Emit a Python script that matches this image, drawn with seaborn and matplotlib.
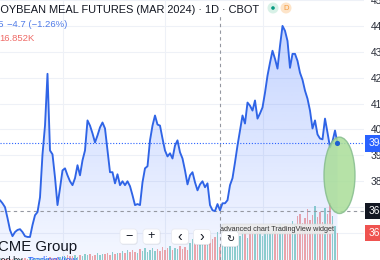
import numpy as np
import pandas as pd
import matplotlib
matplotlib.use("Agg")
import matplotlib.pyplot as plt
import seaborn as sns
from matplotlib.patches import Ellipse, FancyBboxPatch, Circle
from matplotlib.transforms import blended_transform_factory

# ---------------- data ----------------
title = "SOYBEAN MEAL FUTURES (MAR 2024) · 1D · CBOT"
change_text = "−4.7 (−1.26%)"
close_text = "C368.5"
volume_text = "16.852K"

close = [
    372.7, 371.5, 370.0, 365.8, 361.2, 358.8, 360.4, 361.2, 361.5, 360.4,
    358.8, 358.5, 358.5, 363.1, 366.9, 368.1, 373.8, 390.4, 401.5, 421.5,
    391.9, 390.4, 381.5, 370.8, 377.3, 384.2, 385.0, 382.3, 380.0, 378.5,
    381.2, 386.2, 382.3, 388.1, 391.9, 403.5, 401.5, 398.5, 395.0, 397.7,
    400.8, 402.7, 400.4, 391.9, 383.5, 383.5, 379.2, 382.7, 378.5, 380.0,
    378.5, 380.0, 378.1, 374.6, 370.8, 371.2, 370.8, 379.6, 385.0, 385.8,
    395.8, 401.5, 405.4, 401.9, 401.5, 396.5, 391.9, 389.6, 390.8, 388.8,
    393.8, 395.8, 391.2, 388.8, 384.2, 378.8, 382.3, 383.5, 379.6, 376.5,
    378.8, 380.0, 377.7, 379.2, 370.8, 368.8, 368.5, 371.2, 368.8, 371.5,
    371.5, 372.7, 378.5, 381.2, 387.3, 393.8, 399.6, 405.4, 402.3, 410.4,
    409.2, 407.3, 411.2, 404.2, 406.2, 408.5, 414.2, 420.8, 425.8, 430.4,
    427.3, 423.5, 432.3, 440.0, 438.1, 434.2, 423.8, 429.2, 429.2, 426.5,
    421.9, 419.2, 415.0, 411.9, 407.3, 400.4, 403.5, 398.1, 396.5, 396.2,
    404.2, 398.8, 393.1, 395.4, 399.6, 394.6,
]

volume_k = [
    0.8, 1.2, 0.9, 1.5, 1.1, 1.8, 1.3, 2.0, 1.6, 1.2, 2.4, 1.9, 2.2, 1.7, 2.8, 2.1,
    3.0, 2.5, 1.9, 2.7, 3.4, 2.2, 2.9, 3.6,
    4.1, 5.3, 3.8, 6.2, 4.9, 5.8, 7.1, 4.6, 6.8, 5.2, 7.9, 6.1, 8.4, 5.5, 7.2, 9.0,
    6.4, 8.1, 7.5, 9.8, 6.9, 10.2, 8.3, 9.4,
    8.8, 11.5, 9.6, 12.8, 10.4, 13.9, 11.2, 9.9, 14.6, 12.1, 15.8, 10.7, 13.3, 16.4,
    12.6, 14.9, 11.8, 17.2, 13.7, 15.5, 18.3, 12.9, 16.1, 14.2, 19.0, 15.3, 17.6, 13.5,
    22.4, 27.9, 24.1, 31.5, 26.3, 29.8, 35.2, 25.7, 33.4, 28.6, 30.9, 37.1, 16.852,
    27.2, 34.8, 29.3, 38.6, 31.7, 36.4, 40.2,
    32.5, 41.3, 36.8, 29.4, 44.6, 38.2, 34.9, 46.1, 39.7, 31.8, 42.5, 47.3, 36.1,
    43.8, 40.4, 35.6, 48.2, 41.9, 45.1, 38.7,
    44.2, 52.6, 47.9, 58.3, 61.7, 49.5, 55.8, 68.4, 53.1, 59.9, 72.6, 57.4, 64.8,
    51.2, 69.3, 62.1, 76.5, 58.7, 45.3, 36.1,
]

price_ticks = [450, 440, 430, 420, 410, 400, 390, 380, 370, 360]
price_labels = ["450.0", "440.0", "430.0", "420.0", "410.0", "400.0", "390.0", "380.0", "", ""]
month_days = [25, 66, 105]
hover_day = 88
hover_price = 368.5

df = pd.DataFrame({"day": np.arange(len(close)), "close": close, "vol": volume_k})
df["up"] = df["close"].diff().fillna(0) >= 0

# ---------------- style ----------------
sns.set_style("white")
plt.rcParams["font.family"] = ["Liberation Sans", "DejaVu Sans"]

W, H = 380, 260
fig = plt.figure(figsize=(W / 100, H / 100), dpi=100)
fig.patch.set_facecolor("white")

rect = [0, 0, 364 / W, 1]
XLIM = (0, 145.6)
YLIM = (349.6, 449.6)

ax_bg = fig.add_axes(rect, zorder=0)
ax_vol = fig.add_axes(rect, zorder=1)
ax = fig.add_axes(rect, zorder=2)
for a in (ax_bg, ax_vol, ax):
    a.set_xlim(*XLIM)
    for s in a.spines.values():
        s.set_visible(False)
ax_vol.patch.set_alpha(0)
ax.patch.set_alpha(0)
ax_bg.set_ylim(*YLIM)
ax_vol.set_ylim(0, 260 * 1.34)

# grid
ax_bg.set_yticks(price_ticks)
ax_bg.set_xticks(month_days)
ax_bg.grid(True, color="#eef1f7", lw=0.8)
ax_bg.tick_params(length=0, labelleft=False, labelbottom=False)

# volume bars
colors = np.where(df["up"], "#92d3cb", "#f5a8a6")
ax_vol.bar(df["day"], df["vol"], width=0.72, color=colors, linewidth=0)
ax_vol.set_xticks([]); ax_vol.set_yticks([])

# area gradient fill
poly = ax.fill_between(df["day"], df["close"], YLIM[0], color="none", lw=0)
grad = np.zeros((256, 1, 4))
grad[:, 0, 0] = 41 / 255
grad[:, 0, 1] = 98 / 255
grad[:, 0, 2] = 1.0
grad[:, 0, 3] = np.linspace(0.05, 0.27, 256)
img = ax.imshow(grad, extent=[0, df["day"].iloc[-1], YLIM[0], max(close)],
                origin="lower", aspect="auto", zorder=3)
img.set_clip_path(poly.get_paths()[0], transform=ax.transData)

sns.lineplot(data=df, x="day", y="close", ax=ax, color="#2f64e6", lw=1.35, zorder=4)

# lines: last price & crosshair
ax.axhline(close[-1], color="#2962ff", lw=0.8, ls=(0, (1, 1.6)), zorder=3.5)
ax.axhline(hover_price, color="#9598a1", lw=0.8, ls=(0, (3, 3)), zorder=3.5)
ax.axvline(hover_day, ymax=0.94, color="#9598a1", lw=0.8, ls=(0, (3, 3)), zorder=3.5)

# ellipse drawing
ell = Ellipse((df["day"].iloc[-1] + 0.8, close[-1] - 12.3), width=12.4, height=29.5,
              facecolor="#a9dd98", edgecolor="#86bd8e", lw=1.0, alpha=0.85, zorder=5)
ax.add_patch(ell)
ax.scatter([df["day"].iloc[-1]], [close[-1]], s=14, color="#1f5fd0", zorder=6, edgecolor="none")

ax.set_xlim(*XLIM)
ax.set_ylim(*YLIM)
ax.set_xlabel(""); ax.set_ylabel("")
ax.yaxis.tick_right()
ax.set_yticks(price_ticks)
ax.set_yticklabels(price_labels)
ax.set_xticks([])
ax.tick_params(axis="y", length=0, pad=5, labelsize=7.3, labelcolor="#2a2e39")

# price scale labels
tr = blended_transform_factory(ax.transAxes, ax.transData)
ax.text(368.5 / 364, close[-1], f"{close[-1]:.1f}", transform=tr, color="white", fontsize=7.3,
        va="center", ha="left", clip_on=False, zorder=7,
        bbox=dict(boxstyle="square,pad=0.3", fc="#2962ff", ec="none"))
ax.text(368.5 / 364, hover_price, f"{hover_price:.1f}", transform=tr, color="white", fontsize=7.3,
        va="center", ha="left", clip_on=False, zorder=7,
        bbox=dict(boxstyle="square,pad=0.3", fc="#131722", ec="none"))
trv = blended_transform_factory(ax_vol.transAxes, ax_vol.transData)
ax_vol.text(368.5 / 364, volume_k[-1], f"{volume_k[-1]:.1f}K", transform=trv, color="white",
            fontsize=7.3, va="center", ha="left", clip_on=False, zorder=7,
            bbox=dict(boxstyle="square,pad=0.3", fc="#ef5350", ec="none"))

# ---------------- UI overlay (pixel coords) ----------------
ui = fig.add_axes([0, 0, 1, 1], zorder=10)
ui.set_xlim(0, W); ui.set_ylim(H, 0); ui.axis("off"); ui.patch.set_alpha(0)

ui.text(-7, 13, title, fontsize=7.9, color="#131722", va="baseline", ha="left")
ui.add_patch(Circle((273, 8), 5.5, fc="#d8f1e7", ec="none"))
ui.add_patch(Circle((273, 8), 1.8, fc="#089981", ec="none"))
ui.add_patch(Circle((286, 8), 5.5, fc="#fde4c9", ec="none"))
ui.text(286, 8.3, "D", fontsize=5.5, color="#f59a3c", ha="center", va="center")

ui.text(3.5, 27, close_text, fontsize=6.8, color="#4f7be8", ha="right", va="baseline")
ui.text(7, 27, change_text, fontsize=6.8, color="#4f7be8", ha="left", va="baseline")
ui.text(-0.5, 41, volume_text, fontsize=6.8, color="#ef6a66", ha="left", va="baseline")

ui.text(-2.5, 251, "CME Group", fontsize=10.8, color="#131722", ha="left", va="baseline")
ui.text(25, 263, "Powered by ", fontsize=6.5, color="#131722", ha="right", va="baseline")
ui.text(28, 263, "TradingView", fontsize=6.5, color="#2962ff", ha="left", va="baseline")

def button(cx, cy, label, fam=None, fs=8):
    ui.add_patch(FancyBboxPatch((cx - 8.5 + 0.6, cy - 7.5 + 0.8), 17, 15,
                                boxstyle="round,pad=0,rounding_size=3",
                                fc="#000000", alpha=0.08, ec="none"))
    ui.add_patch(FancyBboxPatch((cx - 8.5, cy - 7.5), 17, 15,
                                boxstyle="round,pad=0,rounding_size=3",
                                fc="white", ec="#e6e8ee", lw=0.5))
    kw = {} if fam is None else {"family": fam}
    ui.text(cx, cy, label, fontsize=fs, color="#131722", ha="center", va="center", **kw)

button(128.5, 236.5, "−", fs=9)
button(151.5, 236.5, "+", fs=9)
button(180, 236.5, "‹", fs=10)
button(202, 237, "›", fs=10)

ui.add_patch(FancyBboxPatch((222, 224), 111, 10, boxstyle="round,pad=0,rounding_size=1.5",
                            fc="#ececec", ec="#d6d6d6", lw=0.4, alpha=0.92))
ui.text(277.5, 229.3, "advanced chart TradingView widget", fontsize=5.2, color="#333333",
        ha="center", va="center")
button(230, 239, "↻", fam="DejaVu Sans", fs=7)

fig.savefig("out.png", dpi=100, facecolor="white")
